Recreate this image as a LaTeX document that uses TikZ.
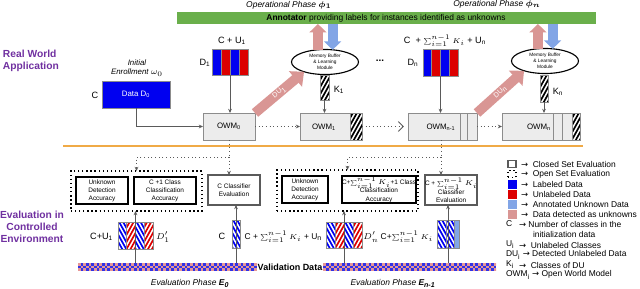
\documentclass[tikz,border=0pt]{standalone}
\usepackage{amsmath}
\usepackage{fontspec}
\setmainfont{Liberation Sans}
\newfontfamily\djv{DejaVu Sans}
\usepackage{bm}
\usetikzlibrary{arrows.meta,shapes.geometric}
\definecolor{myblue}{RGB}{0,0,240}
\definecolor{myred}{RGB}{220,0,0}
\definecolor{lblue}{RGB}{130,165,230}
\definecolor{dpink}{RGB}{217,150,148}
\definecolor{mygreen}{RGB}{106,175,75}
\definecolor{myorange}{RGB}{240,170,70}
\definecolor{mypurple}{RGB}{112,48,160}
\definecolor{boxgray}{RGB}{236,236,236}
\definecolor{edgegray}{RGB}{140,140,140}
\definecolor{arrgray}{RGB}{90,90,90}
\definecolor{chkblue}{RGB}{50,50,230}
\definecolor{chkpink}{RGB}{230,150,150}
\newlength\pxu \setlength\pxu{0.025cm}
\newcommand\fs[2]{\fontsize{#1}{#2}\selectfont}
\newcommand\arr{{\djv →}}
\newcommand\sumK{{\fontsize{4.6}{5.5}\selectfont$\sum\nolimits_{i=1}^{n-1}K_i$}}
\newcommand\sumKs{{\fontsize{4}{5}\selectfont$\sum\nolimits_{i=1}^{n-1}K_i$}}
% stripes: x1 y1 x2 y2 color dir
\newcommand\stripes[6]{%
  \begin{scope}
    \clip (#1,#2) rectangle (#3,#4);
    \fill[white] (#1,#2) rectangle (#3,#4);
    \foreach \k in {-28,-24,...,44}{
      \draw[#5, line width=1.2pt] ({#1+\k},{#2-2}) -- ++({#6*19},34);
    }
  \end{scope}
  \draw[edgegray, line width=0.4pt] (#1,#2) rectangle (#3,#4);}
\newcommand\solid[5]{%
  \fill[#5] (#1,#2) rectangle (#3,#4);
  \draw[edgegray, line width=0.4pt] (#1,#2) rectangle (#3,#4);}
\begin{document}
\begin{tikzpicture}[x=0.025cm,y=-0.025cm,
  every node/.style={inner sep=0pt, outer sep=0pt},
  wh/.style 2 args={minimum width=#1\pxu, minimum height=#2\pxu},
  owmbox/.style={draw=edgegray, fill=boxgray, line width=0.5pt, anchor=north west},
  owmtext/.style={font=\fs{5.6}{6}},
  conn/.style={draw=arrgray, line width=0.5pt, -{Stealth[length=3pt,width=2.6pt]}},
  dotconn/.style={draw=arrgray, line width=0.6pt, dotted, -{Stealth[length=3pt,width=2.6pt]}},
  fat/.style={line width=7pt, -{Triangle[length=6pt,width=12pt]}},
  duarrow/.style={dpink, line width=7pt, -{Triangle[length=8pt,width=14pt]}},
  mbuf/.style={ellipse, draw, line width=0.8pt, fill=white, wh={67}{25}, align=center, font=\fs{3.4}{4.1}},
  evalbox/.style={draw, line width=1.3pt, anchor=north west, align=center, font=\fs{4.6}{5.8}},
  closedbox/.style={draw=arrgray, line width=1.4pt, anchor=north west, align=center, font=\fs{4.6}{5.8}},
  openbox/.style={draw, line width=0.9pt, dotted, anchor=north west},
  lbl/.style={font=\fs{6.5}{7.5}},
  slbl/.style={font=\fs{6}{7}},
  lgtext/.style={font=\fs{6}{7}, anchor=west},
  phase/.style={font=\fs{6}{7}\itshape},
  region/.style={font=\fs{7.3}{8.6}\bfseries, text=mypurple}
]
\useasboundingbox (0,0) rectangle (640,289);

% ---------- top: real world ----------
\node[phase] (op1) at (289,5) {Operational Phase $\bm{\phi_1}$};
\node[phase] (opn) at (497,4) {Operational Phase $\bm{\phi_n}$};
\node[fill=mygreen, wh={419}{12}, font=\fs{6}{7}] (annot) at (386,18) {\textbf{Annotator} providing labels for instances identified as unknowns};
\node[region, align=left, anchor=west] (rwa) at (3,61) {Real World\\Application};

\node[font=\fs{5.6}{7}\itshape, align=center] (ie) at (137,68) {Initial\\Enrollment $\omega_0$};
\node[lbl] (cl0) at (95,95) {C};
\node[fill=myblue, draw=edgegray, wh={68}{27}, anchor=north west, text=white, font=\fs{5.6}{6}] (data0) at (102,81) {Data D\textsubscript{0}};

% D1 stack
\node[wh={36}{26}, anchor=north west] (d1) at (212,49) {};
\solid{212}{49}{221}{75}{myblue}
\solid{221}{49}{230}{75}{myred}
\solid{230}{49}{239}{75}{myblue}
\solid{239}{49}{248}{75}{myred}
\node[lbl] (d1top) at (232,41) {C + U\textsubscript{1}};
\node[lbl] (d1lab) at (205,63) {D\textsubscript{1}};

% Dn stack
\node[wh={35}{27}, anchor=north west] (dn) at (423,49) {};
\solid{423}{49}{431.75}{76}{myblue}
\solid{431.75}{49}{440.5}{76}{myred}
\solid{440.5}{49}{449.25}{76}{myblue}
\solid{449.25}{49}{458}{76}{myred}
\node[lbl] (dntop) at (445,41) {C \ + \sumK{} + U\textsubscript{n}};
\node[lbl] (dnlab) at (413,63) {D\textsubscript{n}};

\node[font=\fs{7}{8}\bfseries] (dots) at (380,61) {...};

% OWM boxes
\node[owmbox, wh={52}{27}, owmtext] (owm0) at (203,113) {OWM\textsubscript{0}};
\node[owmbox, wh={62}{27}] (owm1) at (300,113) {};
\stripes{350}{113}{362}{140}{black}{-1}
\draw[edgegray, line width=0.5pt] (owm1.north west) rectangle (owm1.south east);
\node[owmtext] (owm1t) at (324,127) {OWM\textsubscript{1}};
\node[owmbox, wh={69}{27}] (owmn1) at (408,113) {};
\draw[edgegray, line width=0.5pt] (460,113) -- (460,140) (467,113) -- (467,140);
\node[owmtext] (owmn1t) at (441,127) {OWM\textsubscript{n-1}};
\node[owmbox, wh={78}{27}] (owmn) at (502,113) {};
\stripes{572}{113}{580}{140}{black}{-1}
\draw[edgegray, line width=0.5pt] (owmn.north west) rectangle (owmn.south east)
  (553,113) -- (553,140) (562,113) -- (562,140);
\node[owmtext] (owmnt) at (539,127) {OWM\textsubscript{n}};

% memory buffers
\node[mbuf] (mb1) at (325,62) {Memory Buffer\\\& Learning\\Module};
\node[mbuf] (mb2) at (545,61) {Memory Buffer\\\& Learning\\Module};

% K bars
\node[wh={9}{25}, anchor=north west] (k1) at (320,75) {};
\stripes{320}{75}{329}{100}{black}{-1}
\node[lbl] (k1lab) at (339,90) {K\textsubscript{1}};
\node[wh={8}{27}, anchor=north west] (kn) at (540,75) {};
\stripes{540}{75}{548}{102}{black}{-1}
\node[lbl] (knlab) at (558,92) {K\textsubscript{n}};

% fat arrows
\draw[fat, dpink] (mb1.120) -- (annot.south -| mb1.120);
\draw[fat, lblue] (annot.south -| mb1.58) -- (mb1.58);
\draw[fat, dpink] (mb2.120) -- (annot.south -| mb2.120);
\draw[fat, lblue] (annot.south -| mb2.58) -- (mb2.58);
\draw[duarrow] (owm0.north east) -- node[sloped, text=white, font=\fs{5}{6}] {DU\textsubscript{1}} (mb1.205);
\draw[duarrow] (owmn1.north east) -- node[sloped, text=white, font=\fs{5}{6}] {DU\textsubscript{n}} (mb2.205);

% thin connectors
\draw[conn] (data0.south) |- (owm0.west);
\draw[conn] (d1.south) -- (d1.south |- owm0.north);
\draw[conn] (dn.south) -- (dn.south |- owmn1.north);
\draw[conn] (k1.south) -- (k1.south |- owm1.north);
\draw[conn] (kn.south) -- (kn.south |- owmn.north);
\draw[dotconn] (owm0.east) -- (owm1.west);
\draw[draw=arrgray, line width=0.6pt, dotted, -{Straight Barb[length=3.5pt,width=7pt]}] (owm1.east) -- ([xshift=-3pt]owmn1.west);
\draw[dotconn] (owmn1.east) -- (owmn.west);

% separator
\draw[myorange, line width=1.6pt] (63,146) -- (583,146);

% ---------- bottom: controlled evaluation ----------
\node[region, align=center] (eval) at (32,227) {Evaluation in\\Controlled\\Environment};

\node[openbox, wh={131}{40}] (ob1) at (71,171) {};
\node[evalbox, wh={52}{27}] (ub1) at (76,177) {Unknown\\Detection\\Accuracy};
\node[evalbox, wh={62}{27}] (cb1) at (134,177) {C +1 Class\\Classification\\Accuracy};
\node[closedbox, wh={52}{30}] (cce) at (208,175) {C Classifier\\Evaluation};
\node[openbox, wh={141}{41}] (ob2) at (277,170) {};
\node[evalbox, wh={46}{27}] (ub2) at (282,176) {Unknown\\Detection\\Accuracy};
\node[evalbox, wh={70}{27}] (cb2) at (342,176) {C+\sumKs+1 Class\\Classification\\Accuracy};
\node[closedbox, wh={52}{30}] (ce3) at (425,175) {C + \sumKs\\Classifier\\Evaluation};

% stripe stacks
\node[wh={35}{27}, anchor=north west] (s1) at (118,222) {};
\stripes{118}{222}{126.75}{249}{myblue}{1}
\stripes{126.75}{222}{135.5}{249}{myred}{-1}
\stripes{135.5}{222}{144.25}{249}{myblue}{1}
\stripes{144.25}{222}{153}{249}{myred}{-1}
\node[lbl, anchor=east] (s1l) at (113,237) {C+U\textsubscript{1}};
\node[lbl] (s1r) at (163,237) {$D_1'$};

\node[wh={8}{28}, anchor=north west] (s0) at (232,220) {};
\stripes{232}{220}{240}{248}{myblue}{1}
\node[lbl] (s0l) at (222,236) {C};

\node[wh={36}{26}, anchor=north west] (s2) at (326,222) {};
\stripes{326}{222}{335}{248}{myblue}{1}
\stripes{335}{222}{344}{248}{myred}{-1}
\stripes{344}{222}{353}{248}{myblue}{1}
\stripes{353}{222}{362}{248}{myred}{-1}
\node[slbl, anchor=east] (s2l) at (322,237) {C + \sumK{} + U\textsubscript{n}};
\node[lbl] (s2r) at (371,237) {$D_n'$};

\node[wh={22}{28}, anchor=north west] (s3) at (437,220) {};
\stripes{437}{220}{446}{248}{myblue}{1}
\stripes{446}{220}{454}{248}{myblue}{1}
\solid{454}{220}{459}{248}{lblue}
\node[slbl, anchor=east] (s3l) at (433,237) {C+\sumK};

% validation bar
\node[wh={418}{8}, anchor=north west] (val) at (78,263) {};
\begin{scope}
  \clip (78,263) rectangle (496,271);
  \fill[chkblue] (78,263) rectangle (496,271);
  \foreach \i in {0,2,...,156}{
    \fill[chkpink] ({78+\i*2.667},263) rectangle ++(2.667,2.667);
    \fill[chkpink] ({78+(\i+1)*2.667},265.667) rectangle ++(2.667,2.667);
    \fill[chkpink] ({78+\i*2.667},268.333) rectangle ++(2.667,2.667);
  }
\end{scope}
\node[fill=white, wh={66}{8}, font=\fs{6.4}{7}\bfseries] (vtext) at (290,267) {Validation Data};
\node[phase] (e0) at (190,283) {Evaluation Phase \textbf{E\textsubscript{0}}};
\node[phase] (en) at (393,283) {Evaluation Phase \textbf{E\textsubscript{n-1}}};

% up arrows from validation data
\draw[conn] (s1.center |- val.north) -- (s1.center |- ob1.south);
\draw[conn] (s0.center |- val.north) -- (s0.center |- cce.south);
\draw[conn] (s2.center |- val.north) -- (s2.center |- ob2.south);
\draw[conn] (s3.center |- val.north) -- (s3.center |- ce3.south);

% dotted links from models to evaluations
\coordinate (j1) at (owm0.south |- 0,157);
\coordinate (j2) at (owmn1t.south |- 0,157);
\draw[draw=arrgray, line width=0.6pt, dotted] (owm0.south) -- (j1);
\draw[dotconn] (j1) -| (ob1.north);
\draw[dotconn] (j1) -- (j1 |- cce.north);
\draw[draw=arrgray, line width=0.6pt, dotted] (j2 |- owmn1.south) -- (j2);
\draw[dotconn] (j2) -| (ob2.north);
\draw[dotconn] (j2) -- (j2 |- ce3.north);

% ---------- legend ----------
\node[draw=arrgray, line width=1.3pt, wh={8}{7}] (lg1) at (512,164) {};
\node[draw, dotted, line width=0.9pt, wh={8}{7}] (lg2) at (512,174) {};
\node[fill=myblue, wh={9}{9}] (lg3) at (512,184) {};
\node[fill=myred, wh={9}{9}] (lg4) at (512,194) {};
\node[fill=lblue, wh={9}{9}] (lg5) at (512,204) {};
\node[fill=dpink, wh={9}{9}] (lg6) at (512,214) {};
\node[lgtext] at (521,164) {\arr\ \ Closed Set Evaluation};
\node[lgtext] at (521,174) {\arr\ \ Open Set Evaluation};
\node[lgtext] at (521,184) {\arr\ \ Labeled Data};
\node[lgtext] at (521,194) {\arr\ \ Unlabeled Data};
\node[lgtext] at (521,204) {\arr\ \ Annotated Unknown Data};
\node[lgtext] at (521,214) {\arr\ \ Data detected as unknowns};
\node[lgtext] at (506,224) {C};
\node[lgtext] at (519,224) {\arr\ Number of classes in the};
\node[lgtext] at (533,234) {initialization data};
\node[lgtext] at (506,245) {U\textsubscript{i}};
\node[lgtext] at (519,245) {\arr\ \ Unlabeled Classes};
\node[lgtext] at (506,255) {DU\textsubscript{i} \arr\ Detected Unlabeled Data};
\node[lgtext] at (506,265) {K\textsubscript{i}};
\node[lgtext] at (519,265) {\arr\ \ Classes of DU};
\node[lgtext] at (506,275) {OWM\textsubscript{i} \arr\ Open World Model};
\end{tikzpicture}
\end{document}
